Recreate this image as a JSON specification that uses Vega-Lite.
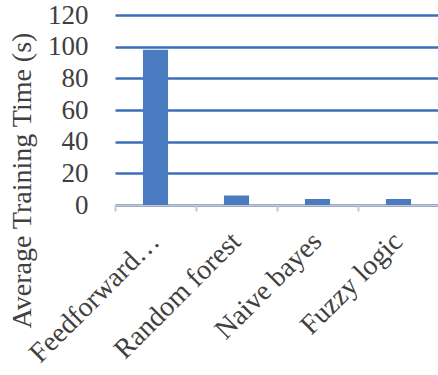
{
  "$schema": "https://vega.github.io/schema/vega-lite/v6.json",
  "autosize": "none",
  "padding": {"left": 115, "top": 15, "right": 0, "bottom": 170},
  "width": 324,
  "height": 190,
  "background": "white",
  "data": {"values": [
    {"method": "Feedforward neural network", "time": 98},
    {"method": "Random forest", "time": 6},
    {"method": "Naive bayes", "time": 3.8},
    {"method": "Fuzzy logic", "time": 3.8}
  ]},
  "mark": {"type": "bar", "color": "#4A7BC0", "width": {"band": 0.31}},
  "encoding": {
    "x": {
      "field": "method", "type": "nominal", "sort": null,
      "scale": {"paddingInner": 0, "paddingOuter": 0},
      "axis": {
        "title": null,
        "bandPosition": 0,
        "labelAngle": -45,
        "labelAlign": "right",
        "labelBaseline": "middle",
        "labelFont": "Liberation Serif",
        "labelFontSize": 28,
        "labelColor": "#404040",
        "labelPadding": 26,
        "labelOffset": 0,
        "labelLimit": 300,
        "labelExpr": "datum.label == 'Feedforward neural network' ? 'Feedforward…' : datum.label",
        "domainColor": "#C8C8C8",
        "domainWidth": 2,
        "tickColor": "#C8C8C8",
        "tickWidth": 2,
        "tickSize": 6,
        "grid": false
      }
    },
    "y": {
      "field": "time", "type": "quantitative",
      "scale": {"domain": [0, 120], "nice": false},
      "axis": {
        "values": [0, 20, 40, 60, 80, 100, 120],
        "title": "Average Training Time (s)",
        "titleFont": "Liberation Serif",
        "titleFontSize": 28,
        "titleFontWeight": "normal",
        "titleColor": "#404040",
        "titleAnchor": "middle",
        "titleAlign": "center",
        "titleAngle": -90,
        "titleBaseline": "middle",
        "titleX": -93,
        "titleY": 165,
        "labelFont": "Liberation Serif",
        "labelFontSize": 27,
        "labelColor": "#404040",
        "labelPadding": 27,
        "domain": false,
        "ticks": false,
        "gridColor": "#3D6CB8",
        "gridWidth": 2.5
      }
    }
  },
  "config": {"view": {"stroke": null}}
}
